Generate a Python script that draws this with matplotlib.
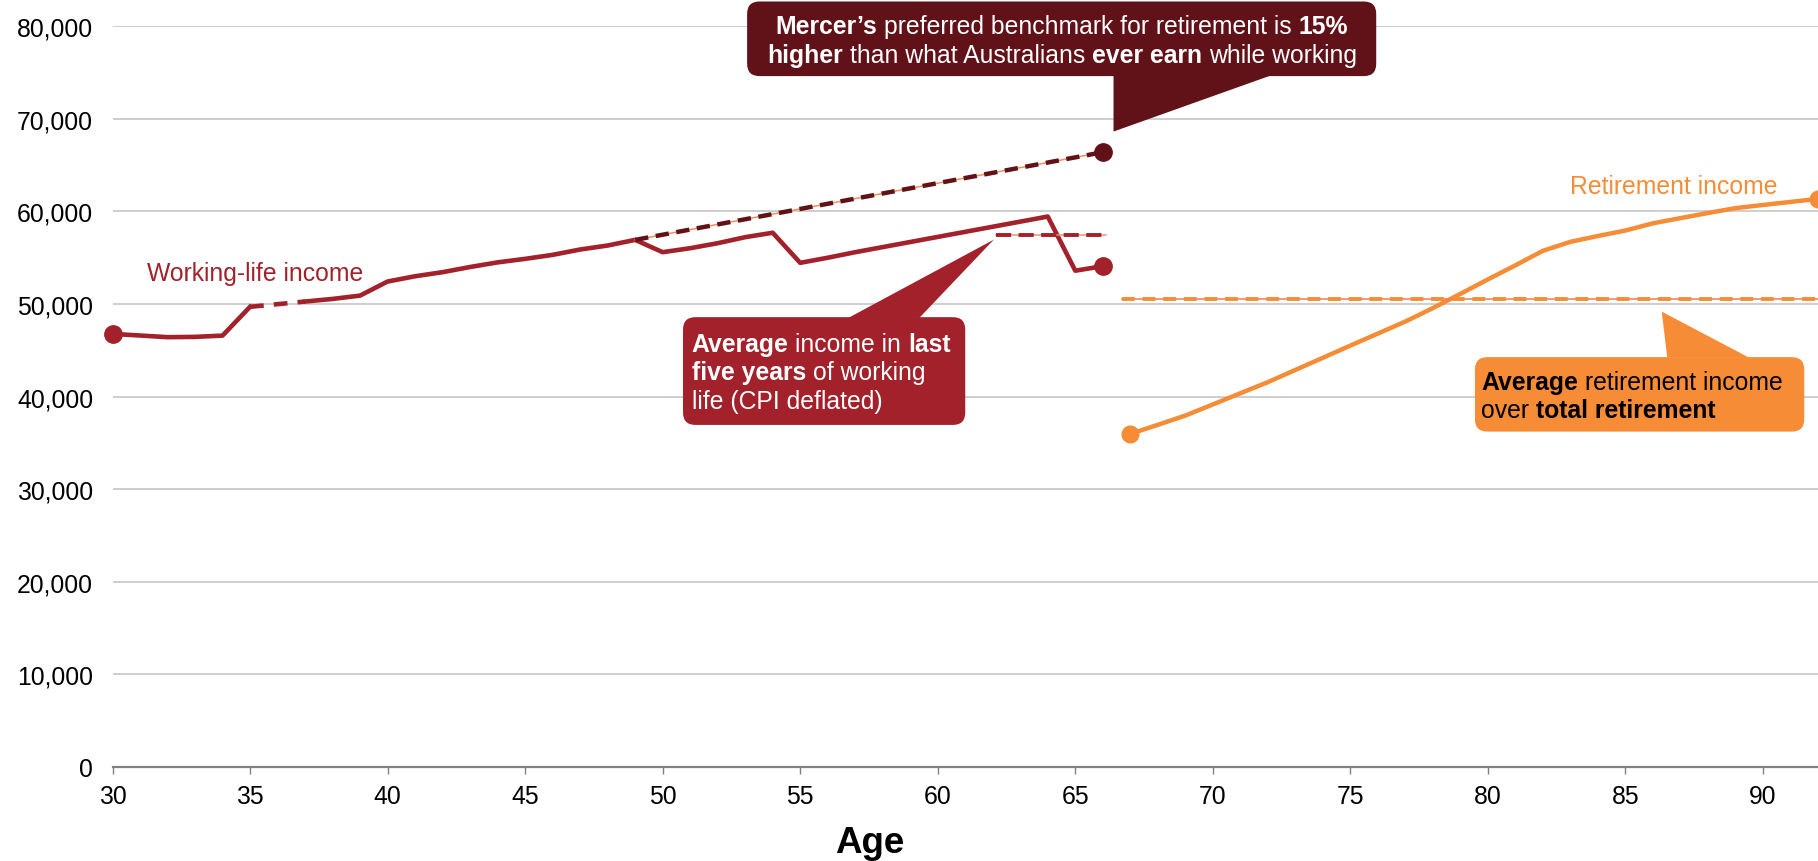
import numpy as np
import matplotlib
matplotlib.use('Agg')
import matplotlib.pyplot as plt
from matplotlib.patches import FancyBboxPatch, Polygon

plt.rcParams['font.family'] = ['Liberation Sans', 'DejaVu Sans']

RED = '#A2212A'
DARK = '#611218'
ORANGE = '#F68C35'
TXT = 17.8

# income by age while working (no reading at 36, bridged with a dashed link)
work_ages = [30, 31, 32, 33, 34, 35, 37, 38, 39, 40, 41, 42, 43, 44, 45, 46, 47,
             48, 49, 50, 51, 52, 53, 54, 55, 56, 57, 58, 59, 60, 61, 62, 63, 64,
             65, 66]
work_income = [46770, 46600, 46420, 46450, 46590, 49700, 50270, 50550, 50910,
               52430, 53000, 53440, 54000, 54500, 54880, 55310, 55890, 56320,
               56930, 55600, 56030, 56570, 57220, 57700, 54450, 55000, 55600,
               56150, 56700, 57250, 57800, 58350, 58900, 59450, 53600, 54090]
gap_ages = (35, 37)

# income by age in retirement
ret_ages = list(range(67, 93))
ret_income = [35970, 36950, 37950, 39150, 40360, 41560, 42880, 44190, 45510,
              46810, 48110, 49560, 51100, 52660, 54180, 55750, 56720, 57350,
              57940, 58720, 59280, 59830, 60360, 60700, 61030, 61360]

# benchmark and averages
mercer_ages = [49, 66]
mercer_income = [56930, 66400]
last5_ages = [62.1, 66.1]
last5_income = [57510, 57510]
ret_avg_ages = [66.7, 92]
ret_avg_income = [50550, 50550]

x_ticks = list(range(30, 95, 5))
y_ticks = list(range(0, 80001, 10000))

fig = plt.figure(figsize=(18.18, 8.62), dpi=100)
ax = fig.add_axes([112.5 / 1818, 94.1 / 862, (1818 - 112.5) / 1818, 740.6 / 862])
ax.set_xlim(30, 92)
ax.set_ylim(0, 80000)

for s in ['top', 'right', 'left']:
    ax.spines[s].set_visible(False)
ax.spines['bottom'].set_color('#808080')
ax.spines['bottom'].set_linewidth(1.6)
ax.set_xticks(x_ticks)
ax.set_yticks(y_ticks)
ax.set_yticklabels([f'{v:,}' for v in y_ticks])
ax.tick_params(axis='x', length=5, width=1, color='#808080', pad=7, labelsize=17.8)
ax.tick_params(axis='y', length=0, pad=14, labelsize=17.8)
ax.yaxis.grid(True, color='#C6C6C6', lw=1.2)
ax.set_axisbelow(True)

# working-life line: solid parts + dashed bridge
i0 = work_ages.index(gap_ages[0])
i1 = work_ages.index(gap_ages[1])
ax.plot(work_ages[:i0 + 1], work_income[:i0 + 1], color=RED, lw=3.3, zorder=3)
ax.plot(work_ages[i1:], work_income[i1:], color=RED, lw=3.3, zorder=3)
ax.plot(work_ages[i0:i1 + 1], work_income[i0:i1 + 1], color=RED, lw=3.3,
        ls=(0, (3.0, 2.2)), zorder=3)
ax.plot([work_ages[0], work_ages[-1]], [work_income[0], work_income[-1]], 'o',
        color=RED, ms=12.5, zorder=4, clip_on=False)

# retirement line
ax.plot(ret_ages, ret_income, color=ORANGE, lw=3.2, zorder=3)
ax.plot([ret_ages[0], ret_ages[-1]], [ret_income[0], ret_income[-1]], 'o',
        color=ORANGE, ms=12, zorder=4, clip_on=False)

# benchmark / average lines (thin line under the dashes)
ax.plot(mercer_ages, mercer_income, color='#F0905A', lw=1.1, zorder=3)
ax.plot(mercer_ages, mercer_income, color=DARK, lw=3.2, ls=(0, (3.0, 1.7)), zorder=3)
ax.plot(mercer_ages[-1], mercer_income[-1], 'o', color=DARK, ms=12.5, zorder=4)
ax.plot(last5_ages, last5_income, color='#E8957A', lw=1.1, zorder=3)
ax.plot(last5_ages, last5_income, color=RED, lw=2.8, ls=(0, (3.9, 1.9)), zorder=3)
ax.plot(ret_avg_ages, ret_avg_income, color='#E87E5A', lw=1.1, zorder=3)
ax.plot(ret_avg_ages, ret_avg_income, color=ORANGE, lw=2.8, ls=(0, (3.3, 2.0)), zorder=3)

ax.text(31.26, 52640, 'Working-life income', color=RED, fontsize=TXT, va='baseline')
ax.text(83.0, 61980, 'Retirement income', color=ORANGE, fontsize=TXT, va='baseline')

fig.text(869.6 / 1818, 8.7 / 862, 'Age', fontsize=26.5, fontweight='bold',
         ha='center', va='baseline')

renderer = fig.canvas.get_renderer()
bb = ax.get_window_extent(renderer)
aspect = (bb.width / 62) / (bb.height / 80000)


def callout(x0, x1, y0, y1, tri, color):
    box = FancyBboxPatch((x0, y0), x1 - x0, y1 - y0,
                         boxstyle='round,pad=0,rounding_size=0.45',
                         mutation_aspect=aspect, fc=color, ec='none',
                         clip_on=False, zorder=5)
    ax.add_patch(box)
    ax.add_patch(Polygon(tri, closed=True, fc=color, ec='none', clip_on=False,
                         zorder=5))


def rich_line(x, y, parts, color, size, ha='left'):
    space = size * fig.dpi / 72 * 0.278
    arts, widths = [], []
    for s, bold in parts:
        t = ax.annotate(s, (x, y), xytext=(0, 0), textcoords='offset points',
                        color=color, fontsize=size,
                        fontweight='bold' if bold else 'normal',
                        va='baseline', ha='left', annotation_clip=False, zorder=6)
        arts.append(t)
        widths.append(t.get_window_extent(renderer).width)
    total = sum(widths) + space * (len(parts) - 1)
    off = -total / 2 if ha == 'center' else 0
    for t, w in zip(arts, widths):
        t.xyann = (off * 72 / fig.dpi, 0)
        off += w + space


# Mercer callout
callout(53.07, 75.94, 74620, 82680,
        [(66.39, 74700), (72.12, 74700), (66.39, 68630)], DARK)
rich_line(64.51, 79270, [('Mercer’s', True),
                         ('preferred benchmark for retirement is', False),
                         ('15%', True)], 'white', TXT, ha='center')
rich_line(64.51, 76130, [('higher', True), ('than what Australians', False),
                         ('ever earn', True), ('while working', False)],
          'white', TXT, ha='center')

# last five years callout
callout(50.74, 61.0, 36940, 48580,
        [(56.75, 48500), (59.33, 48500), (62.04, 56960)], RED)
rich_line(51.05, 44970, [('Average', True), ('income in', False), ('last', True)],
          'white', TXT)
rich_line(51.05, 41910, [('five years', True), ('of working', False)], 'white', TXT)
rich_line(51.05, 38750, [('life (CPI deflated)', False)], 'white', TXT)

# retirement average callout
callout(79.53, 91.5, 36220, 44260,
        [(86.52, 44200), (89.5, 44200), (86.32, 49180)], ORANGE)
rich_line(79.76, 40830, [('Average', True), ('retirement income', False)],
          'black', TXT)
rich_line(79.76, 37770, [('over', False), ('total retirement', True)], 'black', TXT)

fig.savefig('out.png', dpi=100)
